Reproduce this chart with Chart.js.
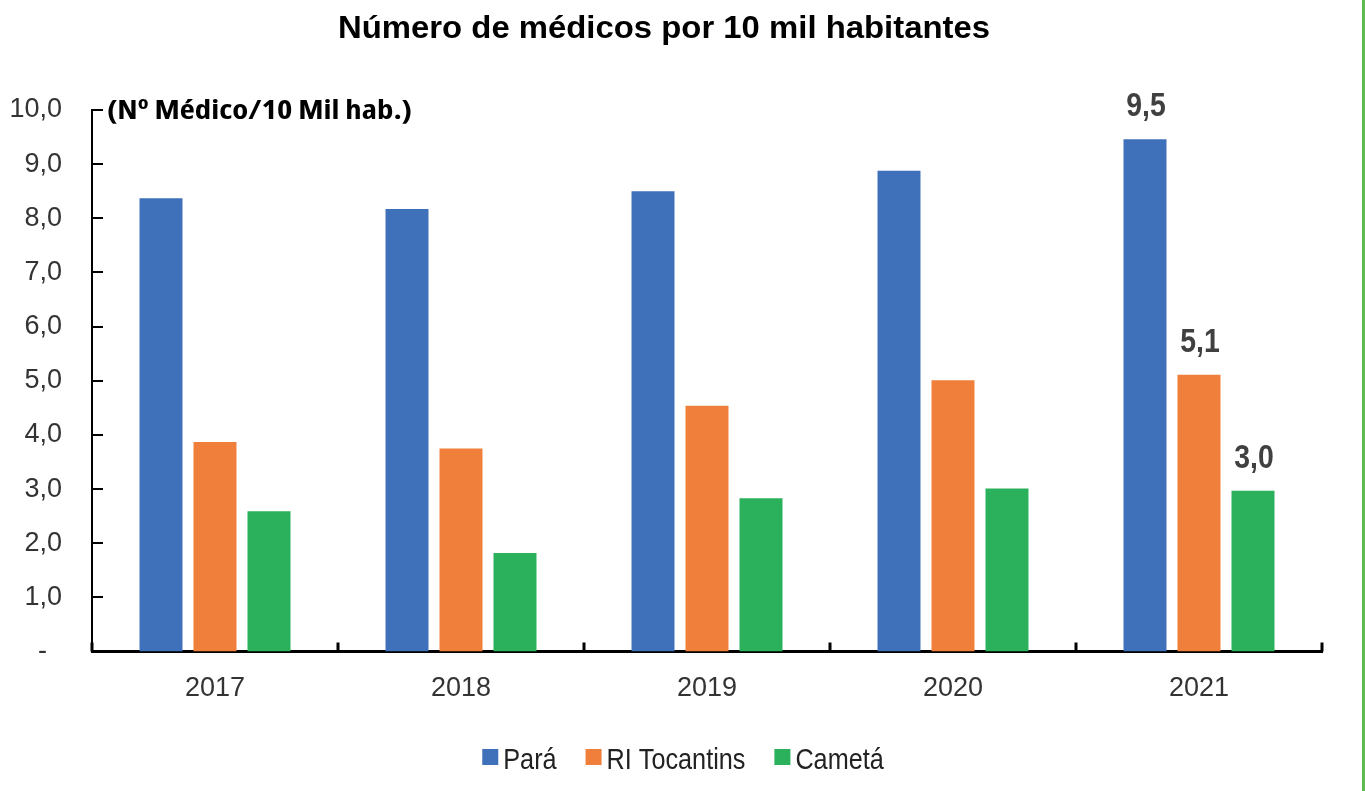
<!DOCTYPE html>
<html><head><meta charset="utf-8">
<script src="https://cdn.jsdelivr.net/npm/chart.js@4.4.1/dist/chart.umd.min.js"></script>
<style>
html,body{margin:0;padding:0;background:#fff;overflow:hidden}
#wrap{position:relative;width:1365px;height:791px}
#frame{position:absolute;left:1362px;top:0;width:3px;height:791px;background:#5DBB50}
</style></head><body>
<div id="wrap"><canvas id="c" width="1365" height="791"></canvas><div id="frame"></div></div>
<script>
const years = ['2017', '2018', '2019', '2020', '2021'];
const seriesNames = ['Pará', 'RI Tocantins', 'Cametá'];
const para = [8.37, 8.17, 8.50, 8.88, 9.46];
const riTocantins = [3.87, 3.75, 4.54, 5.01, 5.11];
const cameta = [2.59, 1.82, 2.83, 3.01, 2.97];
const yTickLabels = ['-', '1,0', '2,0', '3,0', '4,0', '5,0', '6,0', '7,0', '8,0', '9,0', '10,0'];
const labelledYear = '2021';
const chartTitle = 'Número de médicos por 10 mil habitantes';
const unitLabel = '(Nº Médico/10 Mil hab.)';
const colors = ['#3F71BA', '#EF7F3A', '#2BB15B'];

const SANS = '"Liberation Sans", Arial, sans-serif';

function drawScaled(ctx, text, x, y, sx, align) {
  ctx.save();
  ctx.translate(x, y);
  ctx.scale(sx, 1);
  ctx.textAlign = align;
  ctx.fillText(text, 0, 0);
  ctx.restore();
}

const decor = {
  id: 'decor',
  afterDraw(chart) {
    const ctx = chart.ctx, xs = chart.scales.x, ys = chart.scales.y, ca = chart.chartArea;
    ctx.save();
    // y tick marks (inward)
    ctx.strokeStyle = '#000';
    ctx.lineWidth = 2;
    ys.ticks.forEach(t => {
      if (t.value === 0) return;
      const y = Math.round(ys.getPixelForValue(t.value));
      ctx.beginPath(); ctx.moveTo(ca.left, y); ctx.lineTo(ca.left + 11, y); ctx.stroke();
    });
    // x tick marks at category boundaries (upward)
    const n = xs.ticks.length;
    const cw = (xs.right - xs.left) / n;
    ctx.lineWidth = 3;
    for (let i = 0; i <= n; i++) {
      const x = i < n ? xs.getPixelForTick(i) - cw / 2 : xs.getPixelForTick(n - 1) + cw / 2;
      ctx.beginPath(); ctx.moveTo(x, ca.bottom); ctx.lineTo(x, ca.bottom - 9); ctx.stroke();
    }
    // title
    ctx.fillStyle = '#000';
    ctx.textBaseline = 'alphabetic';
    ctx.font = 'bold 32px ' + SANS;
    const tw = ctx.measureText(chartTitle).width;
    drawScaled(ctx, chartTitle, 664, 38, 652 / tw, 'center');
    // unit label
    ctx.font = 'bold 27px "Open Sans", sans-serif';
    try { ctx.fontStretch = 'condensed'; } catch (e) {}
    const uw = ctx.measureText(unitLabel).width;
    drawScaled(ctx, unitLabel, 107, 119, 305 / uw, 'left');
    try { ctx.fontStretch = 'normal'; } catch (e) {}
    // value labels for the last year
    const idx = chart.data.labels.indexOf(labelledYear);
    ctx.font = 'bold 33px ' + SANS;
    ctx.fillStyle = '#404040';
    chart.data.datasets.forEach((ds, d) => {
      const el = chart.getDatasetMeta(d).data[idx];
      const txt = ds.data[idx].toFixed(1).replace('.', ',');
      drawScaled(ctx, txt, el.x + 1, el.y - 23, 0.86, 'center');
    });
    // legend
    ctx.font = '29px ' + SANS;
    const sx = 0.87;
    const box = 16, gapBT = 5, gapItem = 29;
    const items = chart.data.datasets.map(ds => ({ t: ds.label, c: ds.backgroundColor, w: ctx.measureText(ds.label).width * sx }));
    const total = items.reduce((s, it) => s + box + gapBT + it.w, 0) + gapItem * (items.length - 1);
    let x = 683 - total / 2;
    items.forEach(it => {
      ctx.fillStyle = it.c;
      ctx.fillRect(x, 749, box, box);
      ctx.fillStyle = '#222';
      drawScaled(ctx, it.t, x + box + gapBT, 769, sx, 'left');
      x += box + gapBT + it.w + gapItem;
    });
    ctx.restore();
  }
};

new Chart(document.getElementById('c'), {
  type: 'bar',
  data: {
    labels: years,
    datasets: [
      { label: seriesNames[0], data: para, backgroundColor: colors[0] },
      { label: seriesNames[1], data: riTocantins, backgroundColor: colors[1] },
      { label: seriesNames[2], data: cameta, backgroundColor: colors[2] }
    ]
  },
  options: {
    responsive: false,
    animation: false,
    layout: { padding: { top: 110, right: 43, bottom: 79.5, left: 0 } },
    datasets: { bar: { categoryPercentage: 0.6585, barPercentage: 0.796 } },
    plugins: { legend: { display: false }, title: { display: false }, tooltip: { enabled: false } },
    scales: {
      x: {
        grid: { display: false, drawTicks: false },
        border: { color: '#000', width: 3 },
        ticks: { font: { family: SANS, size: 27 }, color: '#333', padding: 21 },
        afterFit(s) { s.height = 60; }
      },
      y: {
        min: 0, max: 10,
        grid: { display: false, drawTicks: false },
        border: { color: '#000', width: 2 },
        ticks: { stepSize: 1, font: { family: SANS, size: 27 }, color: '#333', padding: 30,
          callback: (v, i) => (v === 0 ? yTickLabels[i] + '  ' : yTickLabels[i]) },
        afterFit(s) { s.width = 92; }
      }
    }
  },
  plugins: [decor]
});
</script>
</body></html>
